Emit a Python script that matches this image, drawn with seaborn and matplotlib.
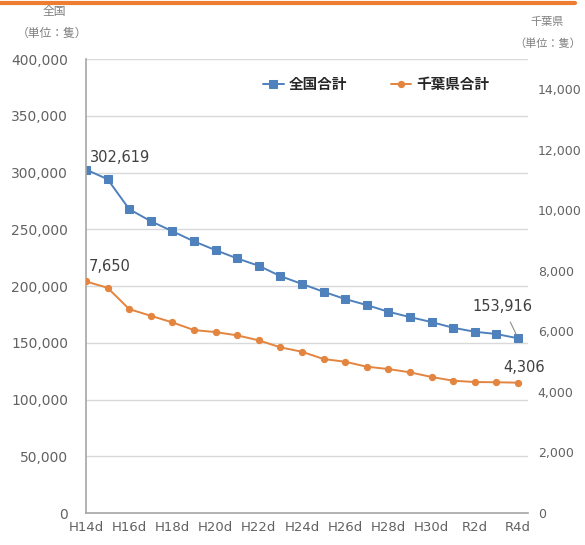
import matplotlib
matplotlib.use("Agg")
import matplotlib.pyplot as plt
from matplotlib.lines import Line2D
import seaborn as sns
import pandas as pd

# ---- data ----
periods = ["H14d", "H15d", "H16d", "H17d", "H18d", "H19d", "H20d", "H21d", "H22d",
           "H23d", "H24d", "H25d", "H26d", "H27d", "H28d", "H29d", "H30d", "R1d",
           "R2d", "R3d", "R4d"]
national_total = [302619, 294100, 267700, 257100, 248300, 239300, 231600, 224300,
                  217800, 208700, 201800, 194900, 188500, 183200, 177300, 172600,
                  168200, 163200, 159700, 157700, 153916]
chiba_total = [7650, 7441, 6737, 6516, 6298, 6044, 5978, 5869, 5704, 5473, 5328,
               5087, 4998, 4833, 4757, 4648, 4493, 4371, 4328, 4320, 4306]
left_ticks = [0, 50000, 100000, 150000, 200000, 250000, 300000, 350000, 400000]
right_ticks = [0, 2000, 4000, 6000, 8000, 10000, 12000, 14000]
series_names = ["全国合計", "千葉県合計"]

sns.set_style("white")
plt.rcParams["font.family"] = ["DejaVu Sans", "Noto Sans CJK JP"]

BLUE = "#4F81BD"
ORANGE = "#E3843F"
TICK_C = "#626262"

df_n = pd.DataFrame({"x": range(len(periods)), "v": national_total})
df_c = pd.DataFrame({"x": range(len(periods)), "v": chiba_total})

fig = plt.figure(figsize=(5.85, 5.45), dpi=100)
ax = fig.add_axes([0.147, 0.0587, 0.7556, 0.833])
ax2 = ax.twinx()

sns.lineplot(data=df_n, x="x", y="v", ax=ax, color=BLUE, marker="s",
             markersize=6, linewidth=1.4, markeredgecolor=BLUE,
             label=series_names[0], legend=False)
sns.lineplot(data=df_c, x="x", y="v", ax=ax2, color=ORANGE, marker="o",
             markersize=4.5, linewidth=1.4, markeredgecolor=ORANGE,
             label=series_names[1], legend=False)

ax.set_xlim(0, len(periods) - 1 + 0.46)
ax.set_ylim(0, 400000)
ax2.set_ylim(0, 15000)

ax.set_yticks(left_ticks)
ax.set_yticklabels([f"{t:,}" for t in left_ticks])
ax2.set_yticks(right_ticks)
ax2.set_yticklabels([f"{t:,}" for t in right_ticks])

ax.set_xticks(range(len(periods)))
ax.set_xticklabels([p if i % 2 == 0 else "" for i, p in enumerate(periods)])

ax.set_xlabel("")
ax.set_ylabel("")
ax2.set_ylabel("")

ax.grid(axis="y", color="#D9D9D9", linewidth=1)
ax.grid(axis="x", visible=False)
ax2.grid(False)
ax.set_axisbelow(True)

for s in ["top", "right"]:
    ax.spines[s].set_visible(False)
for s in ["left", "bottom"]:
    ax.spines[s].set_color("#A6A6A6")
    ax.spines[s].set_linewidth(1.2)
for s in ax2.spines.values():
    s.set_visible(False)

ax.tick_params(axis="y", length=0, pad=13, labelsize=10, labelcolor=TICK_C)
ax.tick_params(axis="x", length=4, direction="in", color="#A6A6A6", pad=6,
               labelsize=9.5, labelcolor=TICK_C)
ax2.tick_params(axis="y", length=0, pad=7, labelsize=9, labelcolor=TICK_C)

# data labels
ax.annotate(f"{national_total[0]:,}", xy=(0, national_total[0]), xytext=(3, 9),
            textcoords="offset points", ha="left", va="center", fontsize=10.5,
            color="#404040")
ax2.annotate(f"{chiba_total[0]:,}", xy=(0, chiba_total[0]), xytext=(2, 11),
             textcoords="offset points", ha="left", va="center", fontsize=10.5,
             color="#404040")
ax.annotate(f"{national_total[-1]:,}", xy=(len(periods) - 1, national_total[-1]),
            xytext=(-11, 23), textcoords="offset points", ha="center", va="center",
            fontsize=10.5, color="#404040",
            arrowprops=dict(arrowstyle="-", color="#8C8C8C", lw=0.8,
                            shrinkA=4, shrinkB=3))
ax2.annotate(f"{chiba_total[-1]:,}", xy=(len(periods) - 1, chiba_total[-1]),
             xytext=(4, 11), textcoords="offset points", ha="center", va="center",
             fontsize=10.5, color="#404040")

# legend
h1, l1 = ax.get_legend_handles_labels()
h2, l2 = ax2.get_legend_handles_labels()
leg = ax2.legend(h1 + h2, l1 + l2, loc="center", bbox_to_anchor=(0.657, 0.943),
                 ncol=2, frameon=False, fontsize=10.5, handlelength=1.4,
                 handletextpad=0.35, columnspacing=3.0)
for t in leg.get_texts():
    t.set_fontweight("bold")

# unit labels
fig.text(54 / 585, 1 - 12 / 545, "全国", ha="center", va="center", fontsize=8.5,
         color="#7F7F7F")
fig.text(52 / 585, 1 - 33 / 545, "（単位：隻）", ha="center", va="center",
         fontsize=8.5, color="#7F7F7F")
fig.text(547 / 585, 1 - 22 / 545, "千葉県", ha="center", va="center", fontsize=8,
         color="#7F7F7F")
fig.text(548 / 585, 1 - 44 / 545, "（単位：隻）", ha="center", va="center",
         fontsize=8, color="#7F7F7F")

# orange header rule
fig.add_artist(Line2D([0, 0.983], [0.995, 0.995], color="#ED7D31", lw=3,
                      transform=fig.transFigure))

fig.savefig("out.png", dpi=100)
